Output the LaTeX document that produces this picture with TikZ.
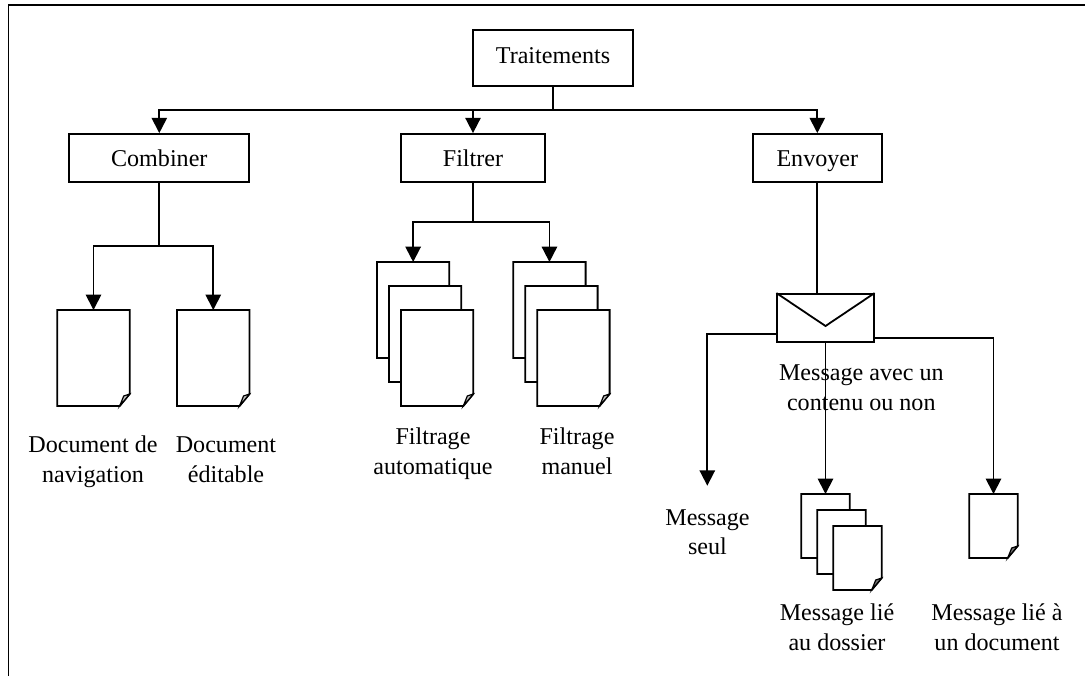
\documentclass[tikz,border=0pt]{standalone}
\usepackage{fontspec}
\setmainfont{Liberation Serif}
\usetikzlibrary{arrows.meta}
\tikzset{
 boxn/.style={draw=black,line width=1.35pt,fill=white,inner sep=0pt,text height=12pt,text depth=0pt,font=\fontsize{18bp}{21.7bp}\selectfont},
 lbl/.style={align=center,inner sep=0pt,anchor=base,font=\fontsize{18bp}{21.7bp}\selectfont,text=black},
 conn/.style={line width=1.35pt,draw=black},
 arr/.style={conn,-{Triangle[length=11.5pt,width=11.5pt]}},
 page/.style={draw=black,line width=1.35pt,fill=white},
}
\newcommand{\docpage}[6]{% x1 y1 x2 y2 name foldfill
 \draw[page] (#1,#2) -- (#3,#2) -- (#3,#4-12) -- (#3-10,#4) -- (#1,#4) -- cycle;
 \draw[line width=0.9pt,fill=#6] (#3-10,#4) -- (#3-6,#4-10) -- (#3,#4-12) -- cycle;
 \coordinate (#5) at ({(#1+#3)/2},#2);
}
\begin{document}
\begin{tikzpicture}[x=0.75pt,y=-0.75pt]
\useasboundingbox (0,0) rectangle (1085,676);
\draw[conn] (8.5,676) -- (8.5,5) -- (1085,5);
\node[boxn,minimum width=120pt,minimum height=42pt,text height=8pt] (trt) at (553,58) {Traitements};
\node[boxn,minimum width=135pt,minimum height=36pt] (cmb) at (159.3,158) {Combiner};
\node[boxn,minimum width=108pt,minimum height=36pt] (flt) at (473,158) {Filtrer};
\node[boxn,minimum width=96.5pt,minimum height=36pt] (env) at (817.3,158) {Envoyer};
\coordinate (j) at (553,110);
\draw[conn] (trt.south) -- (j);
\draw[arr] (j) -| (cmb.north);
\draw[arr] (j) -| (flt.north);
\draw[arr] (j) -| (env.north);
\docpage{57.3}{310}{129.7}{406}{d1}{black!25}
\docpage{177}{310}{249.5}{406}{d2}{black!25}
\coordinate (cj) at (159.3,245.7);
\draw[conn] (cmb.south) -- (cj);
\draw[arr] (cj) -| (d1);
\draw[arr] (cj) -| (d2);
\docpage{377}{262}{449.3}{358}{a0}{black!25}
\docpage{389}{286}{461.3}{382}{a1}{black!25}
\docpage{401}{310}{473.3}{406}{a2}{black!25}
\docpage{513.3}{262}{585.6}{358}{b0}{black!25}
\docpage{525.3}{286}{597.6}{382}{b1}{black!25}
\docpage{537.3}{310}{609.6}{406}{b2}{black!25}
\coordinate (fj) at (473,222);
\draw[conn] (flt.south) -- (fj);
\draw[arr] (fj) -| (a0);
\draw[arr] (fj) -| (b0);
\node[boxn,minimum width=72.3pt,minimum height=35.8pt] (mail) at (825.5,317.8) {};
\draw[line width=1.35pt] (mail.north west) -- (825.5,326) -- (mail.north east);
\coordinate (mt) at (817.3,294);
\draw[conn] (env.south) -- (mt);
\docpage{801.3}{494}{849.7}{558}{m0}{black!55}
\docpage{817.3}{510}{865.7}{574}{m1}{black!55}
\docpage{833.3}{526}{881.7}{590}{m2}{black!55}
\docpage{969.3}{494}{1017.7}{558}{n0}{black!55}
\coordinate (ms) at (707.3,485.7);
\coordinate (mo1) at (777.3,333.7);
\coordinate (mo2) at (873.7,338);
\draw[arr] (mo1) -| (ms);
\draw[arr] (mail.south) -- (m0);
\draw[arr] (mo2) -| (n0);
\node[lbl] (t1) at (93,482) {Document de\\navigation};
\node[lbl] (t2) at (226,482) {Document\\éditable};
\node[lbl] (t3) at (433,474) {Filtrage\\automatique};
\node[lbl] (t4) at (577,474) {Filtrage\\manuel};
\node[lbl] (t5) at (861.3,410) {Message avec un\\contenu ou non};
\node[lbl] (t6) at (707.5,554.5) {Message\\seul};
\node[lbl] (t7) at (837,650) {Message lié\\au dossier};
\node[lbl] (t8) at (997,650) {Message lié à\\un document};
\end{tikzpicture}
\end{document}
